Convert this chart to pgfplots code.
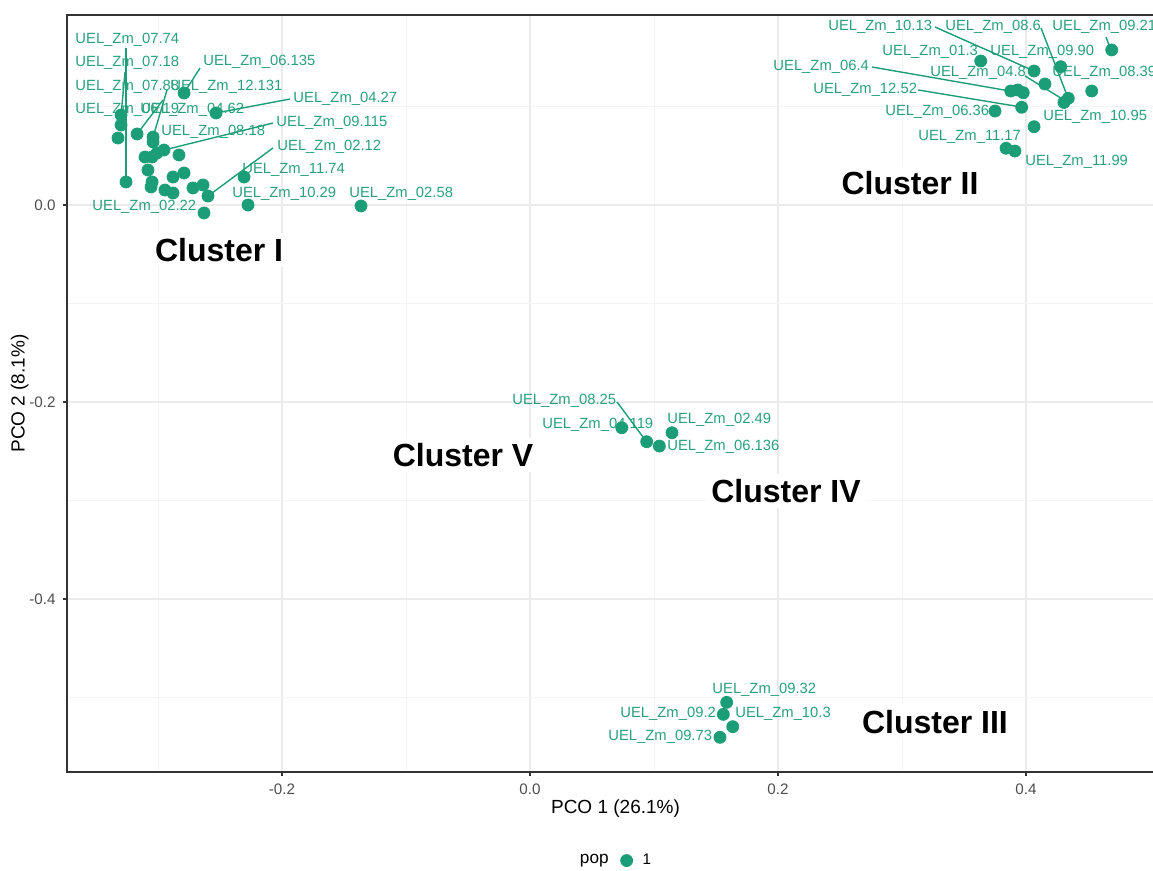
\documentclass[border=0pt]{standalone}
\usepackage{fontspec}
\setmainfont{Liberation Sans}
\usepackage{pgfplots}
\pgfplotsset{compat=1.18}
\definecolor{ptgreen}{RGB}{27,158,119}
\definecolor{labgreen}{RGB}{40,160,125}
\definecolor{panelgray}{RGB}{51,51,51}
\definecolor{tickgray}{RGB}{77,77,77}
\definecolor{gridmaj}{RGB}{235,235,235}
\definecolor{gridmin}{RGB}{244,244,244}
\newcommand{\labfont}{\fontsize{7.4bp}{8bp}\selectfont}
\begin{document}
\begin{tikzpicture}[
  lab/.style={anchor=west, inner sep=0pt, text=labgreen, font=\labfont},
  seg/.style={draw=ptgreen, line width=0.7bp},
  clus/.style={anchor=center, fill=white, inner sep=2.5bp, text=black, font=\fontsize{16bp}{18bp}\selectfont\bfseries}
]
\useasboundingbox (-33.5bp,-49.5bp) rectangle (543bp,386bp);
\clip (-33.5bp,-49.5bp) rectangle (543bp,386bp);
\begin{axis}[
  scale only axis,
  width=548.5bp, height=378.5bp,
  xmin=-0.3734, xmax=0.5113,
  ymin=-0.5756, ymax=0.1929,
  clip=false,
  axis line style={draw=panelgray, line width=0.6bp},
  xtick={-0.2,0,0.2,0.4},
  xticklabels={-0.2,0.0,0.2,0.4},
  ytick={-0.4,-0.2,0},
  yticklabels={-0.4,-0.2,0.0},
  minor xtick={-0.3,-0.1,0.1,0.3},
  minor ytick={-0.5,-0.3,-0.1,0.1},
  grid=both,
  major grid style={draw=gridmaj, line width=0.6bp},
  minor grid style={draw=gridmin, line width=0.4bp},
  xtick pos=left, ytick pos=left,
  tick align=outside,
  major tick length=2.2bp,
  minor tick length=0pt,
  major tick style={draw=panelgray, line width=0.6bp},
  tick label style={font=\fontsize{7.6bp}{8bp}\selectfont, text=tickgray},
  xlabel={PCO 1 (26.1\%)},
  ylabel={PCO 2 (8.1\%)},
  label style={font=\fontsize{9.5bp}{11bp}\selectfont, text=black},
  xlabel style={at={(axis description cs:0.5,-0.048)}, anchor=center},
  ylabel style={at={(axis description cs:-0.043,0.5)}, anchor=center},
  legend style={at={(axis description cs:0.5,-0.117)}, anchor=center, draw=none, fill=none,
    font=\fontsize{7.6bp}{8bp}\selectfont, legend columns=2,
    /tikz/every even column/.append style={column sep=4bp}},
  legend cell align=left,
]
\addlegendimage{empty legend}
\addlegendentry{\fontsize{8.6bp}{10bp}\selectfont pop}

% ---- Cluster I labels
\node[lab] at (axis cs:-0.3669,0.1675) {UEL\_Zm\_07.74};
\node[lab] at (axis cs:-0.3669,0.1442) {UEL\_Zm\_07.18};
\node[lab] at (axis cs:-0.3669,0.1198) {UEL\_Zm\_07.88};
\node[lab] at (axis cs:-0.3669,0.0964) {UEL\_Zm\_06.19};
\node[lab] at (axis cs:-0.2903,0.1198) {UEL\_Zm\_12.131};
\node[lab] at (axis cs:-0.2637,0.1452) {UEL\_Zm\_06.135};
\node[lab] at (axis cs:-0.3145,0.0964) {UEL\_Zm\_04.62};
\node[lab] at (axis cs:-0.1911,0.1076) {UEL\_Zm\_04.27};
\node[lab] at (axis cs:-0.2976,0.0741) {UEL\_Zm\_08.18};
\node[lab] at (axis cs:-0.2048,0.0832) {UEL\_Zm\_09.115};
\node[lab] at (axis cs:-0.2040,0.0589) {UEL\_Zm\_02.12};
\node[lab] at (axis cs:-0.2323,0.0355) {UEL\_Zm\_11.74};
\node[lab] at (axis cs:-0.2403,0.0112) {UEL\_Zm\_10.29};
\node[lab] at (axis cs:-0.1460,0.0112) {UEL\_Zm\_02.58};
\node[lab] at (axis cs:-0.3532,-0.0020) {UEL\_Zm\_02.22};
% ---- Cluster II labels
\node[lab] at (axis cs:0.2403,0.1807) {UEL\_Zm\_10.13};
\node[lab] at (axis cs:0.3347,0.1807) {UEL\_Zm\_08.6};
\node[lab] at (axis cs:0.4210,0.1807) {UEL\_Zm\_09.21};
\node[lab] at (axis cs:0.2839,0.1553) {UEL\_Zm\_01.3};
\node[lab] at (axis cs:0.3710,0.1553) {UEL\_Zm\_09.90};
\node[lab] at (axis cs:0.1960,0.1401) {UEL\_Zm\_06.4};
\node[lab] at (axis cs:0.3226,0.1340) {UEL\_Zm\_04.8};
\node[lab] at (axis cs:0.4210,0.1340) {UEL\_Zm\_08.39};
\node[lab] at (axis cs:0.2282,0.1168) {UEL\_Zm\_12.52};
\node[lab] at (axis cs:0.2863,0.0944) {UEL\_Zm\_06.36};
\node[lab] at (axis cs:0.4137,0.0893) {UEL\_Zm\_10.95};
\node[lab] at (axis cs:0.3129,0.0690) {UEL\_Zm\_11.17};
\node[lab] at (axis cs:0.3992,0.0437) {UEL\_Zm\_11.99};
% ---- Cluster IV / V labels
\node[lab] at (axis cs:-0.0145,-0.1990) {UEL\_Zm\_08.25};
\node[lab] at (axis cs:0.0097,-0.2234) {UEL\_Zm\_04.119};
\node[lab] at (axis cs:0.1105,-0.2183) {UEL\_Zm\_02.49};
\node[lab] at (axis cs:0.1105,-0.2457) {UEL\_Zm\_06.136};
% ---- Cluster III labels
\node[lab] at (axis cs:0.1468,-0.4924) {UEL\_Zm\_09.32};
\node[lab] at (axis cs:0.0726,-0.5168) {UEL\_Zm\_09.2};
\node[lab] at (axis cs:0.1653,-0.5168) {UEL\_Zm\_10.3};
\node[lab] at (axis cs:0.0629,-0.5401) {UEL\_Zm\_09.73};

% ---- segments
\draw[seg] (axis cs:-0.3258,0.1594) -- (axis cs:-0.3258,0.0234);
\draw[seg] (axis cs:-0.3266,0.1350) -- (axis cs:-0.3298,0.0914);
\draw[seg] (axis cs:-0.2927,0.1168) -- (axis cs:-0.3040,0.0690);
\draw[seg] (axis cs:-0.2960,0.1066) -- (axis cs:-0.3169,0.0721);
\draw[seg] (axis cs:-0.2661,0.1391) -- (axis cs:-0.2774,0.1168);
\draw[seg] (axis cs:-0.1935,0.1076) -- (axis cs:-0.2532,0.0934);
\draw[seg] (axis cs:-0.2073,0.0832) -- (axis cs:-0.2952,0.0558);
\draw[seg] (axis cs:-0.2073,0.0579) -- (axis cs:-0.2597,0.0091);
\draw[seg] (axis cs:0.3266,0.1807) -- (axis cs:0.4065,0.1360);
\draw[seg] (axis cs:0.3992,0.1310) -- (axis cs:0.4306,0.1066);
\draw[seg] (axis cs:0.4121,0.1797) -- (axis cs:0.4339,0.1086);
\draw[seg] (axis cs:0.4645,0.1706) -- (axis cs:0.4685,0.1574);
\draw[seg] (axis cs:0.2758,0.1401) -- (axis cs:0.3871,0.1157);
\draw[seg] (axis cs:0.3129,0.1168) -- (axis cs:0.3960,0.0995);
\draw[seg] (axis cs:0.0702,-0.2000) -- (axis cs:0.0935,-0.2396);

% ---- points
\addplot[only marks, mark=*, mark size=3bp, color=ptgreen, mark options={draw=ptgreen, fill=ptgreen}] table {
x y
-0.2790 0.1137
-0.2532 0.0934
-0.3298 0.0914
-0.3298 0.0812
-0.3323 0.0680
-0.3169 0.0721
-0.3040 0.0690
-0.3040 0.0640
-0.2952 0.0558
-0.3008 0.0528
-0.3105 0.0487
-0.3048 0.0487
-0.2831 0.0508
-0.3081 0.0355
-0.2879 0.0284
-0.2790 0.0325
-0.3258 0.0234
-0.3048 0.0234
-0.3056 0.0183
-0.2944 0.0152
-0.2879 0.0122
-0.2718 0.0173
-0.2637 0.0203
-0.2597 0.0091
-0.2306 0.0284
-0.2274 0.0000
-0.2629 -0.0081
-0.1363 -0.0010
0.4691 0.1574
0.3635 0.1462
0.4065 0.1360
0.4280 0.1404
0.4153 0.1228
0.3877 0.1157
0.3933 0.1168
0.3978 0.1140
0.4306 0.1041
0.4341 0.1083
0.4530 0.1157
0.3965 0.0992
0.3750 0.0954
0.4065 0.0795
0.3839 0.0576
0.3911 0.0548
0.0740 -0.2261
0.0941 -0.2403
0.1043 -0.2447
0.1145 -0.2312
0.1586 -0.5049
0.1559 -0.5171
0.1635 -0.5296
0.1532 -0.5404
};
\addlegendentry{\hspace{3bp}1}

% ---- cluster labels
\node[clus] at (axis cs:-0.2508,-0.0457) {Cluster I};
\node[clus] at (axis cs:0.3065,0.0223) {Cluster II};
\node[clus] at (axis cs:-0.0540,-0.2538) {Cluster V};
\node[clus] at (axis cs:0.2065,-0.2904) {Cluster IV};
\node[clus] at (axis cs:0.3266,-0.5249) {Cluster III};
\end{axis}
\end{tikzpicture}
\end{document}
